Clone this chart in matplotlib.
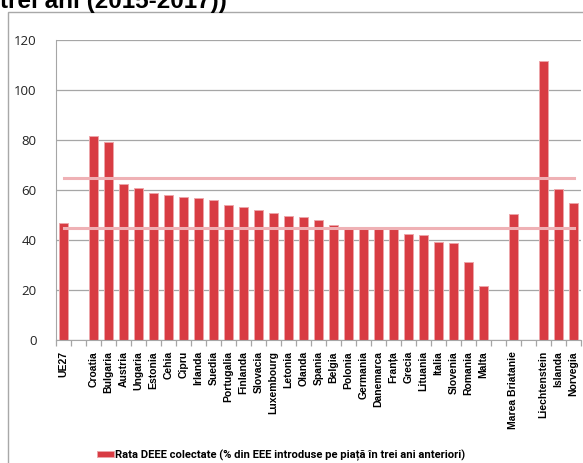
import matplotlib.pyplot as plt
from matplotlib.patches import Rectangle
from matplotlib.ticker import FixedLocator

W, H = 583, 463

# categories (empty strings = gaps in the chart)
countries = ["UE27", "", "Croatia", "Bulgaria", "Austria", "Ungaria", "Estonia", "Cehia",
             "Cipru", "Irlanda", "Suedia", "Portugalia", "Finlanda", "Slovacia",
             "Luxembourg", "Letonia", "Olanda", "Spania", "Belgia", "Polonia",
             "Germania", "Danemarca", "Franța", "Grecia", "Lituania", "Italia",
             "Slovenia", "Romania", "Malta", "", "Marea Briatanie", "",
             "Liechtenstein", "Islanda", "Norvegia"]
rates = [46.7, None, 81.6, 79.2, 62.3, 60.7, 58.9, 58.0, 57.1, 56.7, 56.0, 53.9, 53.3,
         52.0, 50.7, 49.6, 49.3, 48.0, 46.2, 44.9, 44.7, 44.7, 44.7, 42.3, 41.9, 39.2,
         38.9, 31.3, 21.6, None, 50.3, None, 111.7, 60.3, 54.7]
targets = [45, 65]
yticks = [0, 20, 40, 60, 80, 100, 120]

fig = plt.figure(figsize=(W / 100, H / 100), dpi=100)

# outer chart frame
fig.patches.append(Rectangle((8 / W, -0.1), 1.1, (H - 12) / H + 0.1,
                             transform=fig.transFigure, fill=False,
                             edgecolor="#a8a8a8", lw=1))

# title is cut off at the top in the original
fig.text(0, (H - 8) / H, "trei ani (2015-2017))", fontsize=17.5, fontweight="bold",
         family="Liberation Sans", va="baseline", ha="left")

ax = fig.add_axes([56 / W, (H - 340) / H, 525 / W, 300 / H])

xs = [i for i, v in enumerate(rates) if v is not None]
vals = [v for v in rates if v is not None]
ax.bar(xs, vals, width=0.66, color="#d83c43", edgecolor="#eda5a9", lw=0.7,
       zorder=2, label="Rata DEEE colectate (% din EEE introduse pe piață în trei ani anteriori)")

for t in targets:
    ax.plot([0, len(countries) - 1], [t, t], color="#efb1b5", lw=2.2, zorder=3)

ax.set_xlim(-0.5, len(countries) - 0.5)
ax.set_ylim(0, 120)
ax.set_yticks(yticks)
ax.yaxis.grid(True, color="#a6a6a6", lw=0.9, zorder=0)
ax.tick_params(axis="y", length=0, pad=14, labelsize=9.5, labelcolor="#222222")
for lab in ax.get_yticklabels():
    lab.set_family("Open Sans")

ax.set_xticks(range(len(countries)))
ax.set_xticklabels(countries, rotation=90, fontsize=7.5, fontweight="bold",
                   family="Liberation Sans")
ax.xaxis.set_minor_locator(FixedLocator([i - 0.5 for i in range(len(countries) + 1)]))
ax.tick_params(axis="x", which="major", length=0, pad=8)
ax.tick_params(axis="x", which="minor", length=4, color="#a6a6a6", width=0.9)

for s in ["top", "right"]:
    ax.spines[s].set_visible(False)
for s in ["left", "bottom"]:
    ax.spines[s].set_color("#a6a6a6")

fig.legend(loc="center", bbox_to_anchor=(281 / W, (H - 455) / H), frameon=False,
           handlelength=1.5, handleheight=0.5, handletextpad=0.1,
           prop={"family": "Roboto", "weight": "bold", "size": 8.1})

fig.savefig("out.png", dpi=100)
